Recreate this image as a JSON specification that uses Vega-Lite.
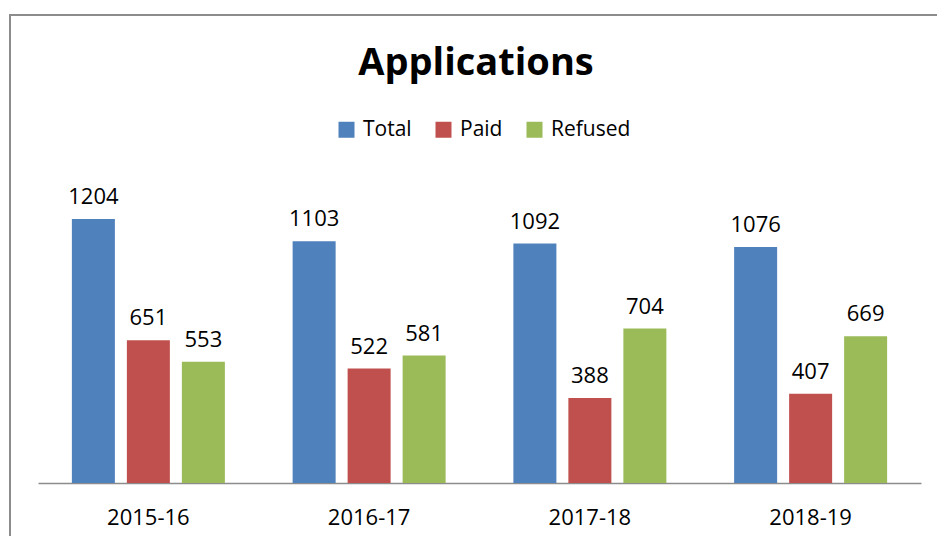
{
  "$schema": "https://vega.github.io/schema/vega-lite/v6.json",
  "autosize": "none",
  "padding": {"left": 10, "top": 15, "right": 0, "bottom": 0},
  "width": 940,
  "height": 530,
  "background": "white",
  "title": {
    "text": "Applications",
    "font": "Open Sans",
    "fontSize": 38,
    "fontWeight": "bold",
    "color": "black",
    "anchor": "middle",
    "baseline": "alphabetic",
    "offset": -53,
    "dy": 45,
    "dx": -4
  },
  "data": {
    "values": [
      {"year": "2015-16", "series": "Total", "value": 1204},
      {"year": "2015-16", "series": "Paid", "value": 651},
      {"year": "2015-16", "series": "Refused", "value": 553},
      {"year": "2016-17", "series": "Total", "value": 1103},
      {"year": "2016-17", "series": "Paid", "value": 522},
      {"year": "2016-17", "series": "Refused", "value": 581},
      {"year": "2017-18", "series": "Total", "value": 1092},
      {"year": "2017-18", "series": "Paid", "value": 388},
      {"year": "2017-18", "series": "Refused", "value": 704},
      {"year": "2018-19", "series": "Total", "value": 1076},
      {"year": "2018-19", "series": "Paid", "value": 407},
      {"year": "2018-19", "series": "Refused", "value": 669}
    ]
  },
  "encoding": {
    "x": {
      "field": "year",
      "type": "nominal",
      "scale": {"range": [28, 911], "paddingInner": 0, "paddingOuter": 0},
      "axis": {
        "orient": "bottom",
        "offset": -62,
        "title": null,
        "labelAngle": 0,
        "labelFont": "Open Sans",
        "labelFontSize": 22,
        "labelColor": "black",
        "labelPadding": 24,
        "ticks": false,
        "domainColor": "#8c8c8c",
        "domainWidth": 1.5,
        "grid": false
      }
    },
    "xOffset": {
      "field": "series",
      "type": "nominal",
      "sort": ["Total", "Paid", "Refused"],
      "scale": {"paddingInner": 0.218, "paddingOuter": 0.616}
    },
    "y": {
      "field": "value",
      "type": "quantitative",
      "scale": {"domain": [0, 1400], "range": [468, 161], "nice": false, "zero": true},
      "axis": null
    }
  },
  "layer": [
    {
      "mark": {"type": "bar"},
      "encoding": {
        "color": {
          "field": "series",
          "type": "nominal",
          "sort": ["Total", "Paid", "Refused"],
          "scale": {"domain": ["Total", "Paid", "Refused"], "range": ["#4F81BD", "#C0504D", "#9BBB59"]},
          "legend": {
            "orient": "none",
            "legendX": 326,
            "legendY": 104,
            "direction": "horizontal",
            "title": null,
            "symbolType": "square",
            "symbolSize": 256,
            "symbolStrokeWidth": 0,
            "labelFont": "Open Sans",
            "labelFontSize": 21,
            "labelColor": "black",
            "labelOffset": 6,
            "columnPadding": 21
          }
        }
      }
    },
    {
      "mark": {"type": "text", "baseline": "alphabetic", "dy": -15, "font": "Open Sans", "fontSize": 22, "color": "black"},
      "encoding": {
        "text": {"field": "value", "type": "quantitative"}
      }
    }
  ],
  "config": {
    "view": {"stroke": "#8c8c8c", "strokeWidth": 2}
  }
}
